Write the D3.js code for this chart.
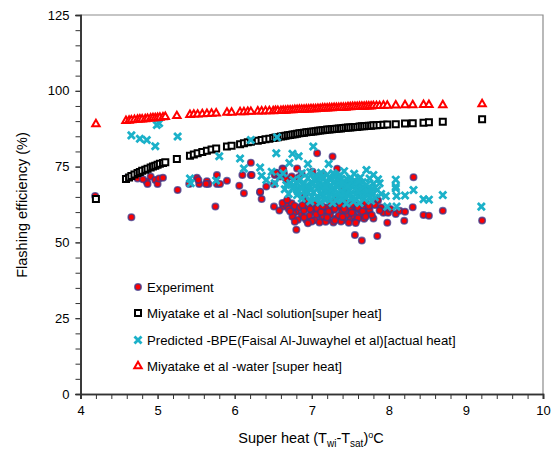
<!DOCTYPE html>
<html><head><meta charset="utf-8">
<script src="https://cdn.jsdelivr.net/npm/d3@7"></script>
<style>body{margin:0;background:#fff}svg{display:block;font-family:"Liberation Sans",Arial,sans-serif}</style>
</head><body>
<svg id="c" width="552" height="452"></svg>
<script>
// ---------- data ----------
const xTicks = [4,5,6,7,8,9,10];
const yTicks = [0,25,50,75,100,125];
const legendLabels = ["Experiment","Miyatake et al -Nacl solution[super heat]","Predicted -BPE(Faisal Al-Juwayhel et al)[actual heat]","Miyatake et al -water [super heat]"];

const miyX = [4.2,4.59,4.63,4.66,4.7,4.74,4.77,4.8,4.84,4.87,4.91,4.94,4.97,5.0,5.03,5.07,5.1,5.25,5.42,5.47,5.52,5.58,5.64,5.7,5.76,5.9,5.96,6.07,6.12,6.17,6.21,6.3,6.35,6.4,6.45,6.5,6.53,6.56,6.6,6.63,6.66,6.69,6.72,6.75,6.78,6.81,6.84,6.87,6.9,6.93,6.96,6.99,7.02,7.05,7.08,7.11,7.14,7.17,7.2,7.23,7.26,7.29,7.32,7.35,7.38,7.41,7.44,7.47,7.5,7.53,7.56,7.59,7.62,7.65,7.68,7.71,7.74,7.77,7.8,7.84,7.88,7.93,7.98,8.09,8.21,8.31,8.45,8.52,8.7,9.21];
const naclY = [64.3,70.9,71.4,71.9,72.4,72.9,73.2,73.6,74.0,74.3,74.7,75.0,75.3,75.6,75.9,76.2,76.4,77.5,78.6,79.0,79.4,79.8,80.2,80.6,81.0,81.6,81.9,82.4,82.7,83.0,83.2,83.5,83.8,84.0,84.2,84.4,84.6,84.7,84.9,85.0,85.2,85.3,85.4,85.6,85.7,85.8,86.0,86.1,86.2,86.3,86.4,86.5,86.6,86.7,86.8,86.9,87.0,87.1,87.2,87.2,87.3,87.4,87.5,87.6,87.6,87.7,87.8,87.9,87.9,88.0,88.1,88.1,88.2,88.3,88.3,88.4,88.5,88.5,88.6,88.6,88.7,88.8,88.9,89.0,89.2,89.3,89.5,89.6,89.8,90.6];
const waterY = [89.0,90.1,90.2,90.3,90.4,90.5,90.6,90.6,90.7,90.8,90.9,91.0,91.0,91.1,91.2,91.3,91.4,91.7,92.1,92.2,92.2,92.3,92.4,92.5,92.6,92.8,92.8,93.0,93.0,93.1,93.1,93.2,93.2,93.3,93.3,93.3,93.4,93.4,93.4,93.5,93.5,93.6,93.6,93.6,93.7,93.7,93.8,93.8,93.8,93.9,93.9,94.0,94.0,94.0,94.1,94.1,94.2,94.2,94.2,94.3,94.3,94.4,94.4,94.4,94.5,94.5,94.5,94.6,94.6,94.7,94.7,94.7,94.8,94.8,94.8,94.9,94.9,94.9,95.0,95.0,95.0,95.1,95.1,95.2,95.3,95.3,95.4,95.4,95.3,95.6];

const experiment = [[4.19,65.3],[4.66,58.3],[4.59,71.1],[4.74,71.1],[4.86,70.0],[4.91,71.7],[4.97,70.6],[5.0,69.3],[4.87,69.3],[5.02,71.1],[5.07,71.3],[4.81,70.8],[5.26,67.3],[5.51,71.3],[5.41,69.3],[5.54,69.3],[5.64,70.2],[5.66,69.3],[5.77,72.2],[5.77,69.3],[5.75,61.8],[5.53,70.6],[5.63,69.3],[5.81,69.3],[5.90,70.3],
[6.06,68.7],[6.10,72.2],[6.21,76.3],[6.21,72.2],[6.12,66.2],[6.33,66.5],[6.35,64.3],[6.41,68.4],[6.51,69.2],[6.52,72.2],[6.54,73.0],[6.62,74.4],[6.64,72.8],[6.59,71.7],[6.67,70.8],[6.74,71.7],[6.81,74.4],[6.51,61.8],[6.63,61.8],[6.67,62.3],[6.74,62.9],[6.80,60.1],[6.80,54.2],[6.76,59.6],
[7.07,79.4],[7.27,78.3],[7.33,74.3],[7.01,73.3],[7.15,72.5],[6.87,72.5],[6.83,71.5],[7.41,67.3],[6.91,65.6],[6.93,63.4],
[7.00,60.1],[7.08,60.7],[7.17,60.1],[7.28,60.7],[7.39,60.1],[7.47,60.7],[7.54,60.1],[6.87,59.0],[6.93,57.4],[7.04,57.4],[7.13,57.9],[7.21,57.4],[7.32,57.9],[7.41,57.4],[7.50,57.9],
[6.70,61.0],[6.78,62.0],[6.85,61.5],[6.90,60.5],[6.95,62.0],[7.03,61.8],[7.10,62.3],[7.20,61.5],[7.25,62.5],[7.33,61.8],[7.42,62.0],[7.50,61.5],[7.58,62.2],[7.62,60.8],[7.70,61.2],[7.67,62.0],[6.97,58.8],[7.06,59.2],[7.15,58.6],[7.24,59.0],[7.35,58.8],[7.45,59.2],[7.55,58.6],[7.63,59.0],[7.72,59.5],[6.75,58.5],[6.82,57.5],[7.18,56.8],[7.28,56.6],[7.38,56.9],[7.48,56.5],[7.58,57.2],[7.68,57.8],[7.75,60.7],[7.80,57.9],[7.86,63.8],[7.93,59.8],[7.99,59.8],[8.09,59.4],[8.14,60.4],[8.21,60.1],[8.31,61.6],[8.20,57.1],[7.98,56.5],[7.85,52.1],[7.65,50.6],[7.56,52.4],
[8.32,71.5],[8.45,59.0],[8.52,58.8],[8.70,60.4],[9.21,57.2],[6.62,63.0],[6.58,60.5],[6.68,64.0],[7.05,63.5],[7.45,63.2],[7.30,64.0],[7.70,63.0],[7.90,61.5],[7.82,62.3],[6.63,74.1],[6.54,72.8],[6.33,66.7],[6.22,72.2],
[6.72,60.2],[6.88,62.3],[6.98,61.0],[7.07,61.2],[7.14,61.8],[7.22,60.2],[7.30,61.0],[7.37,62.3],[7.44,60.5],[7.52,62.6],[7.60,61.5],[7.66,60.2],[7.74,62.0],[6.90,58.2],[7.00,56.9],[7.10,56.6],[7.20,58.2],[7.30,57.2],[7.40,58.4],[7.52,59.8],[7.60,58.0],[7.70,58.5],[7.78,59.0],[7.88,60.5],[8.02,61.0],[6.78,56.8],[6.95,56.3],[7.12,60.0],[7.42,61.0],[7.57,56.4]];

const predicted = [[4.66,85.3],[4.77,84.2],[4.86,83.8],[4.97,81.7],[4.99,88.7],[5.02,89.3],[5.26,84.9],[5.42,71.1],[5.43,69.5],[5.76,70.4],[5.80,78.4],[6.07,77.7],[6.21,83.8],[6.12,74.4],[6.33,74.7],[6.35,72.0],[6.41,70.6],[6.54,79.4],[6.55,84.7],[6.75,79.2],[6.71,76.2],[6.83,78.4],[6.63,72.8],[6.67,68.9],[6.76,70.6],[6.81,67.8],[6.81,65.6],[6.59,71.7],[6.48,73.3],[6.52,69.5],[7.02,81.6],[6.95,75.9],[7.22,75.9],[7.71,73.9],[7.80,72.2],[7.75,71.1],[7.86,70.8],[7.88,69.5],[8.09,70.7],[8.09,67.8],[8.32,67.3],[8.10,65.3],[7.96,65.3],[8.21,65.5],[7.98,61.8],[8.10,61.8],[8.45,64.2],[8.52,64.1],[8.70,65.6],[9.20,61.8],[7.37,72.2],[8.09,68.4],
[6.65,67.5],[6.70,66.0],[6.72,69.5],[6.78,68.5],[6.85,70.8],[6.88,69.0],[6.90,67.0],[6.92,65.5],[6.95,71.2],[6.97,68.0],[7.00,69.8],[7.02,66.5],[7.04,64.2],[7.06,70.5],[7.08,67.8],[7.10,71.5],[7.12,65.8],[7.14,69.0],[7.16,67.0],[7.18,70.2],[7.20,64.5],[7.22,68.2],[7.24,71.0],[7.26,66.2],[7.28,69.5],[7.30,67.5],[7.32,63.8],[7.34,70.6],[7.36,65.5],[7.38,68.8],[7.40,66.8],[7.42,70.0],[7.44,64.8],[7.46,67.9],[7.48,69.6],[7.50,66.0],[7.52,68.5],[7.54,63.5],[7.56,70.3],[7.58,67.2],[7.60,65.2],[7.62,68.9],[7.64,66.5],[7.66,69.8],[7.68,64.3],[7.70,67.6],[7.72,65.8],[7.74,68.2],[7.78,66.7],[7.82,64.8],[7.85,67.3],[7.90,66.0],[6.98,63.5],[7.11,63.2],[7.27,63.0],[7.45,62.8],[7.62,63.0],[6.87,64.5],[6.82,66.8],[7.05,72.0],[7.20,72.3],[7.35,71.8],[7.50,71.2],[7.63,71.4],[7.00,65.0],[7.15,65.5],[7.40,64.0],[7.58,64.2],[6.93,68.8],[7.30,70.0],[7.45,71.0],[7.12,68.0],[7.25,66.0],[7.38,67.0],[7.55,69.0],[7.68,68.0],[7.80,69.3],[7.77,63.7],
[6.87,72.8],[6.98,73.2],[7.12,73.0],[7.28,72.8],[7.42,73.5],[7.55,72.6],
[6.90,69.5],[6.95,66.5],[7.00,67.5],[7.03,70.8],[7.07,65.2],[7.09,69.2],[7.13,71.3],[7.17,64.0],[7.19,66.8],[7.21,69.8],[7.23,65.0],[7.27,67.8],[7.29,71.5],[7.31,65.8],[7.33,68.3],[7.36,70.0],[7.39,64.5],[7.41,69.2],[7.43,66.0],[7.47,65.5],[7.49,67.0],[7.51,70.0],[7.53,64.8],[7.57,66.0],[7.59,68.5],[7.61,70.2],[7.65,67.8],[7.67,65.8],[7.71,69.0],[7.73,66.8],[7.76,65.0],[7.79,67.8],[6.86,67.8],[6.80,69.8],[6.75,67.8],[7.18,68.5],[7.34,66.3],[7.46,68.6],[7.60,66.8],[7.05,68.8]];

// ---------- chart ----------
const svg = d3.select("#c");
const L=80.5, R=543, T=15, B=394;
const x = d3.scaleLinear().domain([4,10]).range([L,R]);
const y = d3.scaleLinear().domain([0,125]).range([B,T]);

const red="#ff0000", cyan="#1bb1c9";

// frame (top/right grey)
svg.append("path").attr("d",`M${L},${T}H${R}V${B}`).attr("fill","none").attr("stroke","#8c8c8c").attr("stroke-width",1.2);

// axes
const xMinor = d3.range(4,10.001,0.2);
const yMinor = d3.range(0,125.001,5);
const gx = svg.append("g").attr("transform",`translate(0,${B})`)
  .call(d3.axisBottom(x).tickValues(xMinor).tickSize(5).tickFormat(""));
const gx2 = svg.append("g").attr("transform",`translate(0,${B})`)
  .call(d3.axisBottom(x).tickValues(xTicks).tickSize(5).tickPadding(7).tickFormat(d3.format("d")));
const gy = svg.append("g").attr("transform",`translate(${L},0)`)
  .call(d3.axisLeft(y).tickValues(yMinor).tickSize(5).tickFormat(""));
const gy2 = svg.append("g").attr("transform",`translate(${L},0)`)
  .call(d3.axisLeft(y).tickValues(yTicks).tickSize(5).tickPadding(6).tickFormat(d3.format("d")));
[gx,gx2,gy,gy2].forEach(g=>{
  g.select(".domain").attr("stroke","#333").attr("stroke-width",1.6);
  g.selectAll(".tick line").attr("stroke","#333").attr("stroke-width",1);
  g.selectAll(".tick text").attr("font-size",13).attr("fill","#000").attr("font-family","Liberation Sans, Arial, sans-serif");
});

// series
const gE = svg.append("g");
gE.selectAll("circle").data(experiment).join("circle")
  .attr("cx",d=>x(d[0])).attr("cy",d=>y(d[1])).attr("r",3.2)
  .attr("fill",red).attr("stroke","#3a3a8c").attr("stroke-opacity",0.75).attr("stroke-width",1.6);

const sq = d3.symbol().type(d3.symbolSquare).size(36);
const gN = svg.append("g");
gN.selectAll("path").data(miyX.map((v,i)=>[v,naclY[i]])).join("path")
  .attr("d",sq).attr("transform",d=>`translate(${x(d[0])},${y(d[1])})`)
  .attr("fill","#fff").attr("stroke","#000").attr("stroke-width",2);

const xs = d3.symbol().type(d3.symbolX).size(34);
const gP = svg.append("g");
gP.selectAll("path").data(predicted).join("path")
  .attr("d",xs).attr("transform",d=>`translate(${x(d[0])},${y(d[1])})`)
  .attr("fill","none").attr("stroke",cyan).attr("stroke-width",2.8);

const tri = d3.symbol().type(d3.symbolTriangle).size(24);
const gW = svg.append("g");
gW.selectAll("path").data(miyX.map((v,i)=>[v,waterY[i]])).join("path")
  .attr("d",tri).attr("transform",d=>`translate(${x(d[0])},${y(d[1])})`)
  .attr("fill","#fff").attr("stroke",red).attr("stroke-width",2);

// legend
const legY = [287,313,340,366];
const lg = svg.append("g");
const mx = 138;
lg.append("circle").attr("cx",mx).attr("cy",legY[0]).attr("r",3.2).attr("fill",red).attr("stroke","#3a3a8c").attr("stroke-opacity",0.75).attr("stroke-width",1.6);
lg.append("path").attr("d",sq).attr("transform",`translate(${mx},${legY[1]})`).attr("fill","#fff").attr("stroke","#000").attr("stroke-width",2);
lg.append("path").attr("d",xs).attr("transform",`translate(${mx},${legY[2]})`).attr("fill","none").attr("stroke",cyan).attr("stroke-width",2.8);
lg.append("path").attr("d",tri).attr("transform",`translate(${mx},${legY[3]})`).attr("fill","#fff").attr("stroke",red).attr("stroke-width",2);
lg.selectAll("text").data(legendLabels).join("text")
  .attr("x",147).attr("y",(d,i)=>legY[i]).attr("dy","0.35em")
  .attr("font-size",13.2).attr("fill","#000").text(d=>d);

// axis titles
const xt = svg.append("text").attr("x",311).attr("y",443).attr("text-anchor","middle").attr("font-size",14.5).attr("fill","#000");
xt.append("tspan").text("Super heat (T");
xt.append("tspan").attr("font-size",10).attr("dy",4).text("wi");
xt.append("tspan").attr("dy",-4).text("-T");
xt.append("tspan").attr("font-size",10).attr("dy",4).text("sat");
xt.append("tspan").attr("dy",-4).text(")");
xt.append("tspan").attr("font-size",9).attr("dy",-5).text("o");
xt.append("tspan").attr("dy",5).text("C");

svg.append("text").attr("transform","translate(27,205) rotate(-90)").attr("text-anchor","middle")
  .attr("font-size",14.5).attr("fill","#000").text("Flashing efficiency (%)");
</script>
</body></html>
